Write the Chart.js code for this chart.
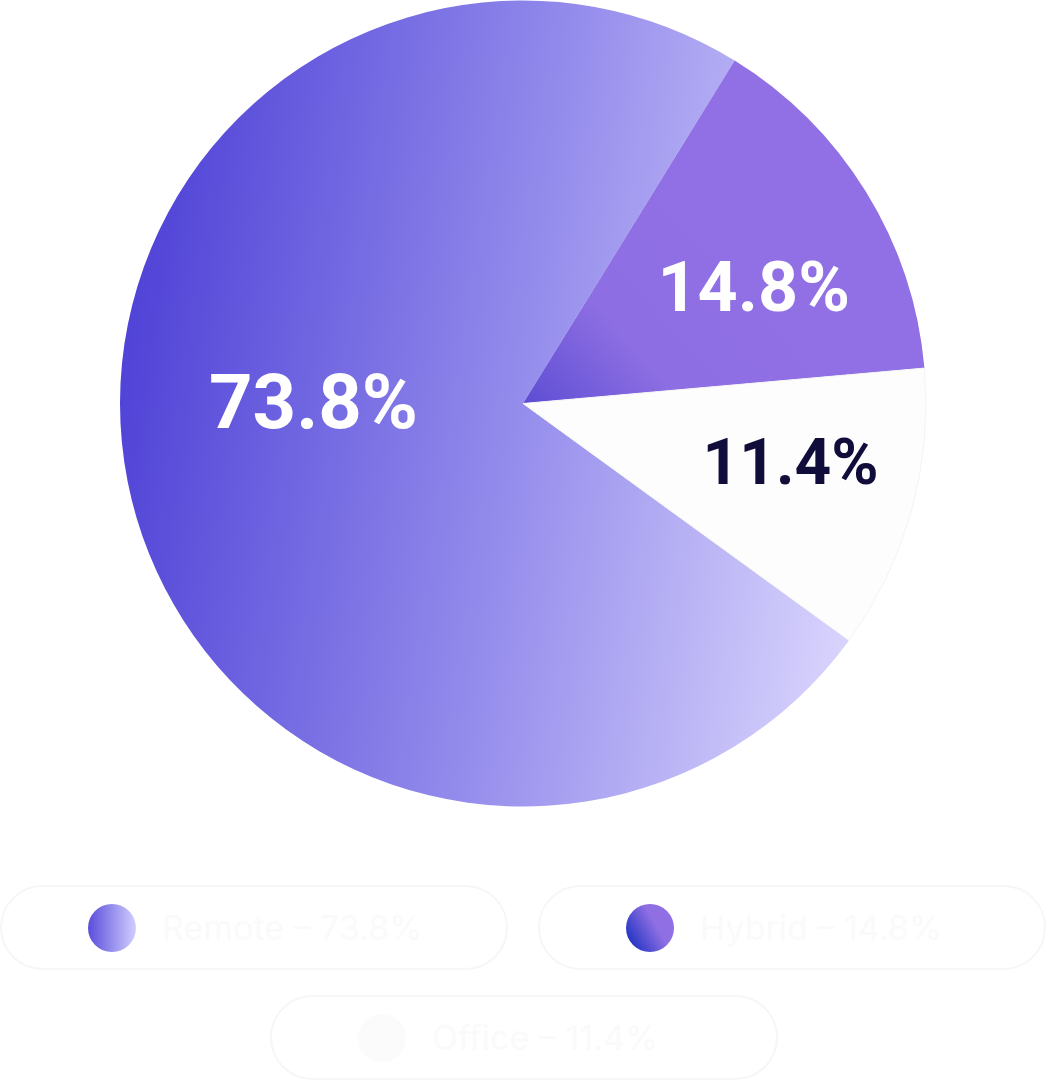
<!DOCTYPE html>
<html>
<head>
<meta charset="utf-8">
<script src="https://cdn.jsdelivr.net/npm/chart.js@4"></script>
<style>
    html, body { margin: 0; padding: 0; background: #ffffff; }
    body { width: 1050px; height: 1083px; overflow: hidden; font-family: Inter, "Noto Sans", sans-serif; }
    #chartBox { position: relative; width: 1046px; height: 807px; }
    #legend { position: relative; width: 1050px; height: 276px; }
    .pill {
        position: absolute; height: 85px; width: 508px; box-sizing: border-box;
        border: 2px solid #f6f6f8; border-radius: 44px;
        display: flex; align-items: center;
    }
    .pill .dot { width: 48px; height: 48px; border-radius: 50%; margin-left: 86px; flex: none; }
    .pill .txt { margin-left: 26px; font-size: 34px; color: #fafafb; white-space: nowrap; }
</style>
</head>
<body>
<div id="chartBox"><canvas id="pieChart"></canvas></div>
<div id="legend"></div>

<script>
/* data */
var categories = ['Remote', 'Hybrid', 'Office'];
var shares     = [73.8, 14.8, 11.4];
var valueLabels = ['73.8%', '14.8%', '11.4%'];

/* label styling per slice (size, colour, nudges) */
var labelColors = ['#ffffff', '#ffffff', '#100d3b'];
var labelSizes  = [76, 70, 64];
var labelDist   = [0.52, 0.64, 0.68];
var labelTurn   = [11.2, 5.1, -3.0];

/* gradient fills for slices */
function sliceFill(ctx) {
    var chart = ctx.chart;
    var area = chart.chartArea;
    if (!area) return '#8f70e4';
    var c = chart.ctx;
    var cx = (area.left + area.right) / 2;
    var cy = (area.top + area.bottom) / 2;
    var r = Math.min(area.right - area.left, area.bottom - area.top) / 2;
    var g;
    if (ctx.dataIndex === 0) {
        g = c.createLinearGradient(cx - r, cy - r * 0.15, cx + r, cy + r * 0.15);
        g.addColorStop(0, '#4f42d7');
        g.addColorStop(0.5, '#958dec');
        g.addColorStop(1, '#e2deff');
        return g;
    }
    if (ctx.dataIndex === 1) {
        g = c.createLinearGradient(cx, cy, cx + r * 0.5, cy - r * 0.45);
        g.addColorStop(0, '#5d4dd3');
        g.addColorStop(0.45, '#8e6fe3');
        g.addColorStop(1, '#9070e4');
        return g;
    }
    return '#fdfdfd';
}

var sliceLabels = {
    id: 'sliceLabels',
    afterDatasetsDraw: function (chart) {
        var c = chart.ctx;
        var meta = chart.getDatasetMeta(0);
        meta.data.forEach(function (arc, i) {
            var p = arc.getProps(['x', 'y', 'startAngle', 'endAngle', 'outerRadius'], true);
            var mid = (p.startAngle + p.endAngle) / 2 + labelTurn[i] * Math.PI / 180;
            var d = p.outerRadius * labelDist[i];
            c.save();
            c.font = '700 ' + labelSizes[i] + 'px Roboto, Inter, sans-serif';
            c.fillStyle = labelColors[i];
            c.textAlign = 'center';
            c.textBaseline = 'middle';
            c.fillText(valueLabels[i], p.x + Math.cos(mid) * d, p.y + Math.sin(mid) * d + labelSizes[i] * 0.08);
            c.restore();
        });
    }
};

new Chart(document.getElementById('pieChart').getContext('2d'), {
    type: 'pie',
    data: {
        labels: categories,
        datasets: [{
            data: shares,
            backgroundColor: sliceFill,
            borderWidth: [0, 0, 1],
            borderColor: '#f3f3f5'
        }]
    },
    options: {
        responsive: true,
        maintainAspectRatio: false,
        animation: false,
        rotation: 126,
        layout: { padding: 0 },
        plugins: {
            legend: { display: false },
            tooltip: { enabled: false }
        }
    },
    plugins: [sliceLabels]
});

/* legend pills below the chart */
var dotFills = [
    'linear-gradient(90deg, #5a4edb, #d2ceff)',
    'linear-gradient(60deg, #1f33c2 10%, #8f6fe3 60%)',
    '#fbfbfb'
];
var pillPos = [[0, 78], [538, 78], [270, 188]];
var legendEl = document.getElementById('legend');
categories.forEach(function (name, i) {
    var pill = document.createElement('div');
    pill.className = 'pill';
    pill.style.left = pillPos[i][0] + 'px';
    pill.style.top = pillPos[i][1] + 'px';
    pill.innerHTML = '<span class="dot" style="background:' + dotFills[i] + '"></span>' +
        '<span class="txt">' + name + ' – ' + valueLabels[i] + '</span>';
    legendEl.appendChild(pill);
});
</script>
</body>
</html>
